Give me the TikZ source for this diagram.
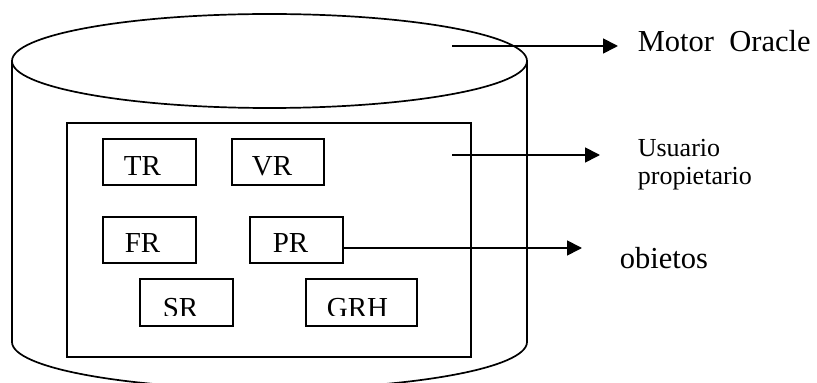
\documentclass[tikz,border=0pt]{standalone}
\usepackage{fontspec}
\setmainfont{Liberation Serif}
\usetikzlibrary{arrows.meta,calc}
\begin{document}
\begin{tikzpicture}[x=1pt,y=1pt,
  line width=1.7pt,
  boxst/.style={draw, rectangle, inner sep=0pt},
  boxtext/.style={anchor=base west, inner sep=0pt, font=\fontsize{29}{33}\selectfont},
  lbl/.style={anchor=base west, inner sep=0pt, font=\fontsize{30.5}{34}\selectfont},
  arr/.style={-{Triangle[length=15pt,width=15pt]}}]
\clip (0,0) rectangle (817,383);
\useasboundingbox (0,0) rectangle (817,383);
% cylinder
\draw (269.5,322) ellipse[x radius=257.5, y radius=47];
\draw (12,322) -- (12,41) arc[start angle=180, end angle=360, x radius=257.5, y radius=47] -- (527,322);
% inner rectangle
\node[boxst, minimum width=404pt, minimum height=234pt] (inner) at (269,143) {};
% boxes
\node[boxst, minimum width=93pt, minimum height=46pt] (TR) at (149.5,221) {};
\node[boxst, minimum width=92pt, minimum height=46pt] (VR) at (278,221) {};
\node[boxst, minimum width=93pt, minimum height=46pt] (FR) at (149.5,143) {};
\node[boxst, minimum width=93pt, minimum height=46pt] (PR) at (296.5,143) {};
\node[boxst, minimum width=93pt, minimum height=47pt] (SR) at (186.5,80.5) {};
\node[boxst, minimum width=111pt, minimum height=47pt] (GRH) at (361.5,80.5) {};
\node[boxtext] (tTR) at (123,207) {TR};
\node[boxtext] (tVR) at (251,207) {VR};
\node[boxtext] (tFR) at (124,130) {FR};
\node[boxtext] (tPR) at (272,130) {PR};
\begin{scope}
\clip (100,67) rectangle (450,110);
\node[boxtext] (tSR) at (162,65) {SR};
\node[boxtext] (tGRH) at (326,65) {GRH};
\end{scope}
% labels
\node[lbl] (motor) at (637,331) {Motor~~Oracle};
\node[anchor=base west, inner sep=0pt, align=left, font=\fontsize{26}{28}\selectfont] (usuario) at (637,198) {Usuario\\propietario};
\node[lbl] (obj) at (619,114) {obietos};
% arrows
\coordinate (m1) at (452,337);
\coordinate (m2) at (618,337);
\coordinate (u1) at (452,228);
\coordinate (u2) at (600,228);
\coordinate (o2) at (582,135);
\draw[arr] (m1) -- (m2);
\draw[arr] (u1) -- (u2);
\draw[arr] (PR.east |- o2) -- (o2);
\end{tikzpicture}
\end{document}
